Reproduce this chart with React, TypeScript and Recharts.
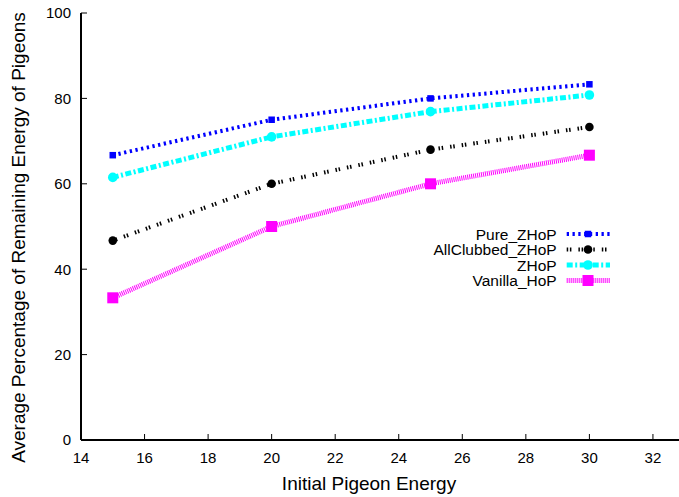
import React from 'react';
import { LineChart, Line, XAxis, YAxis, Label } from 'recharts';

// x values (initial pigeon energy)
const energies = [15, 20, 25, 30];
// series values (% remaining energy)
const pureZHoP = [66.7, 75, 80, 83.3];
const allClubbedZHoP = [46.7, 60, 68, 73.3];
const zhop = [61.5, 71, 76.9, 80.8];
const vanillaHoP = [33.3, 50, 60, 66.7];

const xTicks = [14, 16, 18, 20, 22, 24, 26, 28, 30, 32];
const yTicks = [0, 20, 40, 60, 80, 100];

const data = energies.map((e, i) => ({
    energy: e,
    pure: pureZHoP[i],
    allClubbed: allClubbedZHoP[i],
    zhop: zhop[i],
    vanilla: vanillaHoP[i],
}));

const FONT = '"Liberation Sans", Arial, Helvetica, sans-serif';

const SERIES = [
    { key: 'pure', name: 'Pure_ZHoP', color: '#0000ff', dash: '2.3 3.5', width: 4, marker: 'square', size: 6.5 },
    { key: 'allClubbed', name: 'AllClubbed_ZHoP', color: '#000000', dash: '1.5 1.7 1.5 7', width: 4, marker: 'circle', size: 4.3 },
    { key: 'zhop', name: 'ZHoP', color: '#00ffff', dash: '6 2.5 2 2.5', width: 5, marker: 'circle', size: 4.8 },
    { key: 'vanilla', name: 'Vanilla_HoP', color: '#ff00ff', dash: '1 1', width: 5, marker: 'square', size: 11 },
];

function marker(s: typeof SERIES[number], cx: number, cy: number, key?: string | number) {
    if (s.marker === 'square') {
        return <rect key={key} x={cx - s.size / 2} y={cy - s.size / 2} width={s.size} height={s.size} fill={s.color} />;
    }
    return <circle key={key} cx={cx} cy={cy} r={s.size} fill={s.color} />;
}

// gnuplot-style key, sitting inside the plot area
function KeyBox() {
    return (
        <svg width={230} height={76} style={{ position: 'absolute', left: 400, top: 220, display: 'block' }}>
            {SERIES.map((s, i) => {
                const y = 14 + i * 15.5;
                return (
                    <g key={s.key}>
                        <text x={156.7} y={y + 5.5} textAnchor="end" fontFamily={FONT} fontSize={15.5} fill="#000">
                            {s.name}
                        </text>
                        <line x1={166.7} x2={210} y1={y} y2={y} stroke={s.color} strokeWidth={s.width} strokeDasharray={s.dash} />
                        {marker(s, 188, y)}
                    </g>
                );
            })}
        </svg>
    );
}

export default function App() {
    const axisLine = { stroke: '#000', strokeWidth: 2 };
    const tickLine = { stroke: '#000', strokeWidth: 1 };
    const tickStyle = { fill: '#000', fontSize: 15, fontFamily: FONT };

    return (
        <div style={{ position: 'absolute', left: 0, top: 0, width: 679, height: 497, background: '#fff' }}>
            <LineChart width={679} height={497} data={data} margin={{ top: 13, right: 0, bottom: 0, left: 0 }}>
                <XAxis
                    xAxisId="bottom"
                    dataKey="energy"
                    type="number"
                    domain={[14, 32.82]}
                    ticks={xTicks}
                    allowDataOverflow
                    height={57}
                    axisLine={axisLine}
                    tickLine={tickLine}
                    tickSize={-6}
                    tickMargin={18.5}
                    tick={tickStyle}
                >
                    <Label
                        content={() => (
                            <text x={369} y={489.5} textAnchor="middle" fontFamily={FONT} fontSize={19} fill="#000">
                                Initial Pigeon Energy
                            </text>
                        )}
                    />
                </XAxis>
                <XAxis
                    xAxisId="top"
                    orientation="top"
                    dataKey="energy"
                    type="number"
                    domain={[14, 32.82]}
                    ticks={xTicks}
                    allowDataOverflow
                    height={0}
                    axisLine={axisLine}
                    tickLine={tickLine}
                    tickSize={-6}
                    tick={false}
                />
                <YAxis
                    type="number"
                    domain={[0, 100]}
                    ticks={yTicks}
                    width={81}
                    axisLine={axisLine}
                    tickLine={tickLine}
                    tickSize={-6}
                    tickMargin={16}
                    tick={tickStyle}
                >
                    <Label
                        content={() => (
                            <text
                                x={24.5}
                                y={237.5}
                                transform="rotate(-90 24.5 237.5)"
                                textAnchor="middle"
                                fontFamily={FONT}
                                fontSize={19}
                                fill="#000"
                            >
                                Average Percentage of Remaining Energy of Pigeons
                            </text>
                        )}
                    />
                </YAxis>
                {SERIES.map((s) => (
                    <Line
                        key={s.key}
                        xAxisId="bottom"
                        type="linear"
                        dataKey={s.key}
                        name={s.name}
                        stroke={s.color}
                        strokeWidth={s.width}
                        strokeDasharray={s.dash}
                        isAnimationActive={false}
                        dot={(p: any) => marker(s, p.cx, p.cy, `${s.key}-${p.index}`)}
                        activeDot={false}
                    />
                ))}
            </LineChart>
            <KeyBox />
        </div>
    );
}
